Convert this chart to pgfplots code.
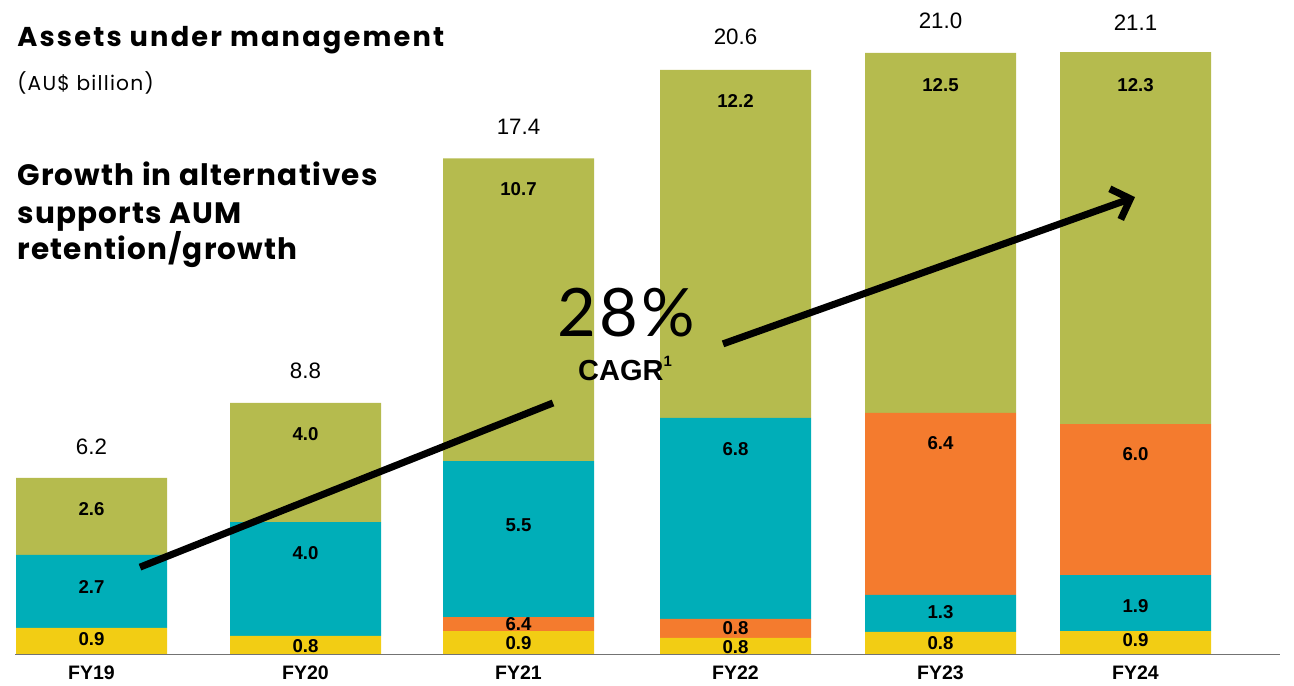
\documentclass[border=0pt]{standalone}
\usepackage{pgfplots}
\pgfplotsset{compat=1.18}
\usepackage{pgfplotstable}
\usetikzlibrary{arrows.meta}
\usepackage{fontspec}
\setmainfont{Liberation Sans}
\newfontfamily\popA{Poppins}[LetterSpace=8]
\newfontfamily\popB{Poppins}[LetterSpace=4]
\newfontfamily\popC{Poppins}[LetterSpace=6]
\newfontfamily\thin{Lato}[LetterSpace=5]

\definecolor{cyellow}{RGB}{242,205,20}
\definecolor{corange}{RGB}{244,123,46}
\definecolor{cteal}{RGB}{0,174,184}
\definecolor{colive}{RGB}{181,187,78}

% x = bar centre (px), heights in AU$ bn as drawn
\pgfplotstableread{
x      yellow orangelo teal orangehi olive
91.5   0.93   0        2.56 0        2.70
305.5  0.65   0        3.99 0        4.17
518.5  0.82   0.49     5.46 0        10.61
735.5  0.58   0.67     7.04 0        12.19
940.5  0.79   0        1.30 6.37     12.61
1135.5 0.82   0        1.96 5.29     13.03
}\aum

\newcommand{\seg}{\fontsize{10.6}{12}\selectfont\bfseries}
\newcommand{\tot}{\fontsize{12.7}{14}\selectfont}
\newcommand{\cat}{\fontsize{11.1}{13}\selectfont\bfseries}

\pgfplotsset{frame/.style={
    scale only axis,
    width=25.88cm, height=13.68cm,
    xmin=0, xmax=1294,
    ymin=-1.033, ymax=22.924,
    axis lines=none,
    clip=false,
}}

\begin{document}
\begin{tikzpicture}
\begin{axis}[frame, ybar stacked, bar width=151]
\addplot[fill=cyellow, draw=none] table[x=x, y=yellow] {\aum};
\addplot[fill=corange, draw=none] table[x=x, y=orangelo] {\aum};
\addplot[fill=cteal, draw=none] table[x=x, y=teal] {\aum};
\addplot[fill=corange, draw=none] table[x=x, y=orangehi] {\aum};
\addplot[fill=colive, draw=none] table[x=x, y=olive] {\aum};
% keep the full frame as the picture's extent
\path (rel axis cs:0,0) rectangle (rel axis cs:1,1);
\end{axis}

% second, empty axis on top for the annotations
\begin{axis}[frame]
\path (rel axis cs:0,0) rectangle (rel axis cs:1,1);
% baseline
\draw[gray!110, line width=0.9pt] (axis cs:15,0) -- (axis cs:1280,0);

% category labels
\node[anchor=base, font=\cat] at (axis cs:91.5,-0.89) {FY19};
\node[anchor=base, font=\cat] at (axis cs:305.5,-0.89) {FY20};
\node[anchor=base, font=\cat] at (axis cs:518.5,-0.89) {FY21};
\node[anchor=base, font=\cat] at (axis cs:735.5,-0.89) {FY22};
\node[anchor=base, font=\cat] at (axis cs:940.5,-0.89) {FY23};
\node[anchor=base, font=\cat] at (axis cs:1135.5,-0.89) {FY24};

% totals
\node[anchor=base, font=\tot] at (axis cs:91.5,6.99) {6.2};
\node[anchor=base, font=\tot] at (axis cs:305.5,9.68) {8.8};
\node[anchor=base, font=\tot] at (axis cs:518.5,18.23) {17.4};
\node[anchor=base, font=\tot] at (axis cs:735.5,21.35) {20.6};
\node[anchor=base, font=\tot] at (axis cs:940.5,21.94) {21.0};
\node[anchor=base, font=\tot] at (axis cs:1135.5,21.87) {21.1};

% segment labels
\node[font=\seg] at (axis cs:91.5,5.10) {2.6};
\node[font=\seg] at (axis cs:91.5,2.36) {2.7};
\node[font=\seg] at (axis cs:91.5,0.54) {0.9};
\node[font=\seg] at (axis cs:305.5,7.72) {4.0};
\node[font=\seg] at (axis cs:305.5,3.56) {4.0};
\node[font=\seg] at (axis cs:305.5,0.30) {0.8};
\node[font=\seg] at (axis cs:518.5,16.30) {10.7};
\node[font=\seg] at (axis cs:518.5,4.54) {5.5};
\node[font=\seg] at (axis cs:518.5,1.07) {6.4};
\node[font=\seg] at (axis cs:518.5,0.40) {0.9};
\node[font=\seg] at (axis cs:735.5,19.39) {12.2};
\node[font=\seg] at (axis cs:735.5,7.20) {6.8};
\node[font=\seg] at (axis cs:735.5,0.93) {0.8};
\node[font=\seg] at (axis cs:735.5,0.26) {0.8};
\node[font=\seg] at (axis cs:940.5,19.95) {12.5};
\node[font=\seg] at (axis cs:940.5,7.41) {6.4};
\node[font=\seg] at (axis cs:940.5,1.49) {1.3};
\node[font=\seg] at (axis cs:940.5,0.40) {0.8};
\node[font=\seg] at (axis cs:1135.5,19.95) {12.3};
\node[font=\seg] at (axis cs:1135.5,7.02) {6.0};
\node[font=\seg] at (axis cs:1135.5,1.70) {1.9};
\node[font=\seg] at (axis cs:1135.5,0.51) {0.9};

% titles
\node[anchor=base west, inner sep=0pt, font=\popA\bfseries\fontsize{15.5}{18}\selectfont] at (axis cs:17,21.28) {Assets under management};
\node[anchor=base west, inner sep=0pt, font=\popC\fontsize{11.5}{13}\selectfont] at (axis cs:17,19.77) {(AU\$ billion)};
\node[anchor=base west, inner sep=0pt, font=\popB\bfseries\fontsize{16.8}{19}\selectfont] at (axis cs:17,16.41) {Growth in alternatives};
\node[anchor=base west, inner sep=0pt, font=\popB\bfseries\fontsize{16.8}{19}\selectfont] at (axis cs:17,15.11) {supports AUM};
\node[anchor=base west, inner sep=0pt, font=\popB\bfseries\fontsize{16.8}{19}\selectfont] at (axis cs:17,13.82) {retention/growth};

% CAGR arrow
\draw[black, line width=4pt] (axis cs:140,3.06) -- (axis cs:553,8.81);
\draw[black, line width=4pt, -{Straight Barb[length=3.2mm,width=6.5mm]}] (axis cs:723,10.88) -- (axis cs:1135,16.02);
\node[font=\thin\fontsize{38}{42}\selectfont] at (axis cs:626,11.99) {28\%};
\node[font=\fontsize{16.5}{18}\selectfont\bfseries] at (axis cs:625,10.03) {CAGR\raisebox{0.9ex}{\fontsize{8.5}{9}\selectfont 1}};
\end{axis}
\end{tikzpicture}
\end{document}
